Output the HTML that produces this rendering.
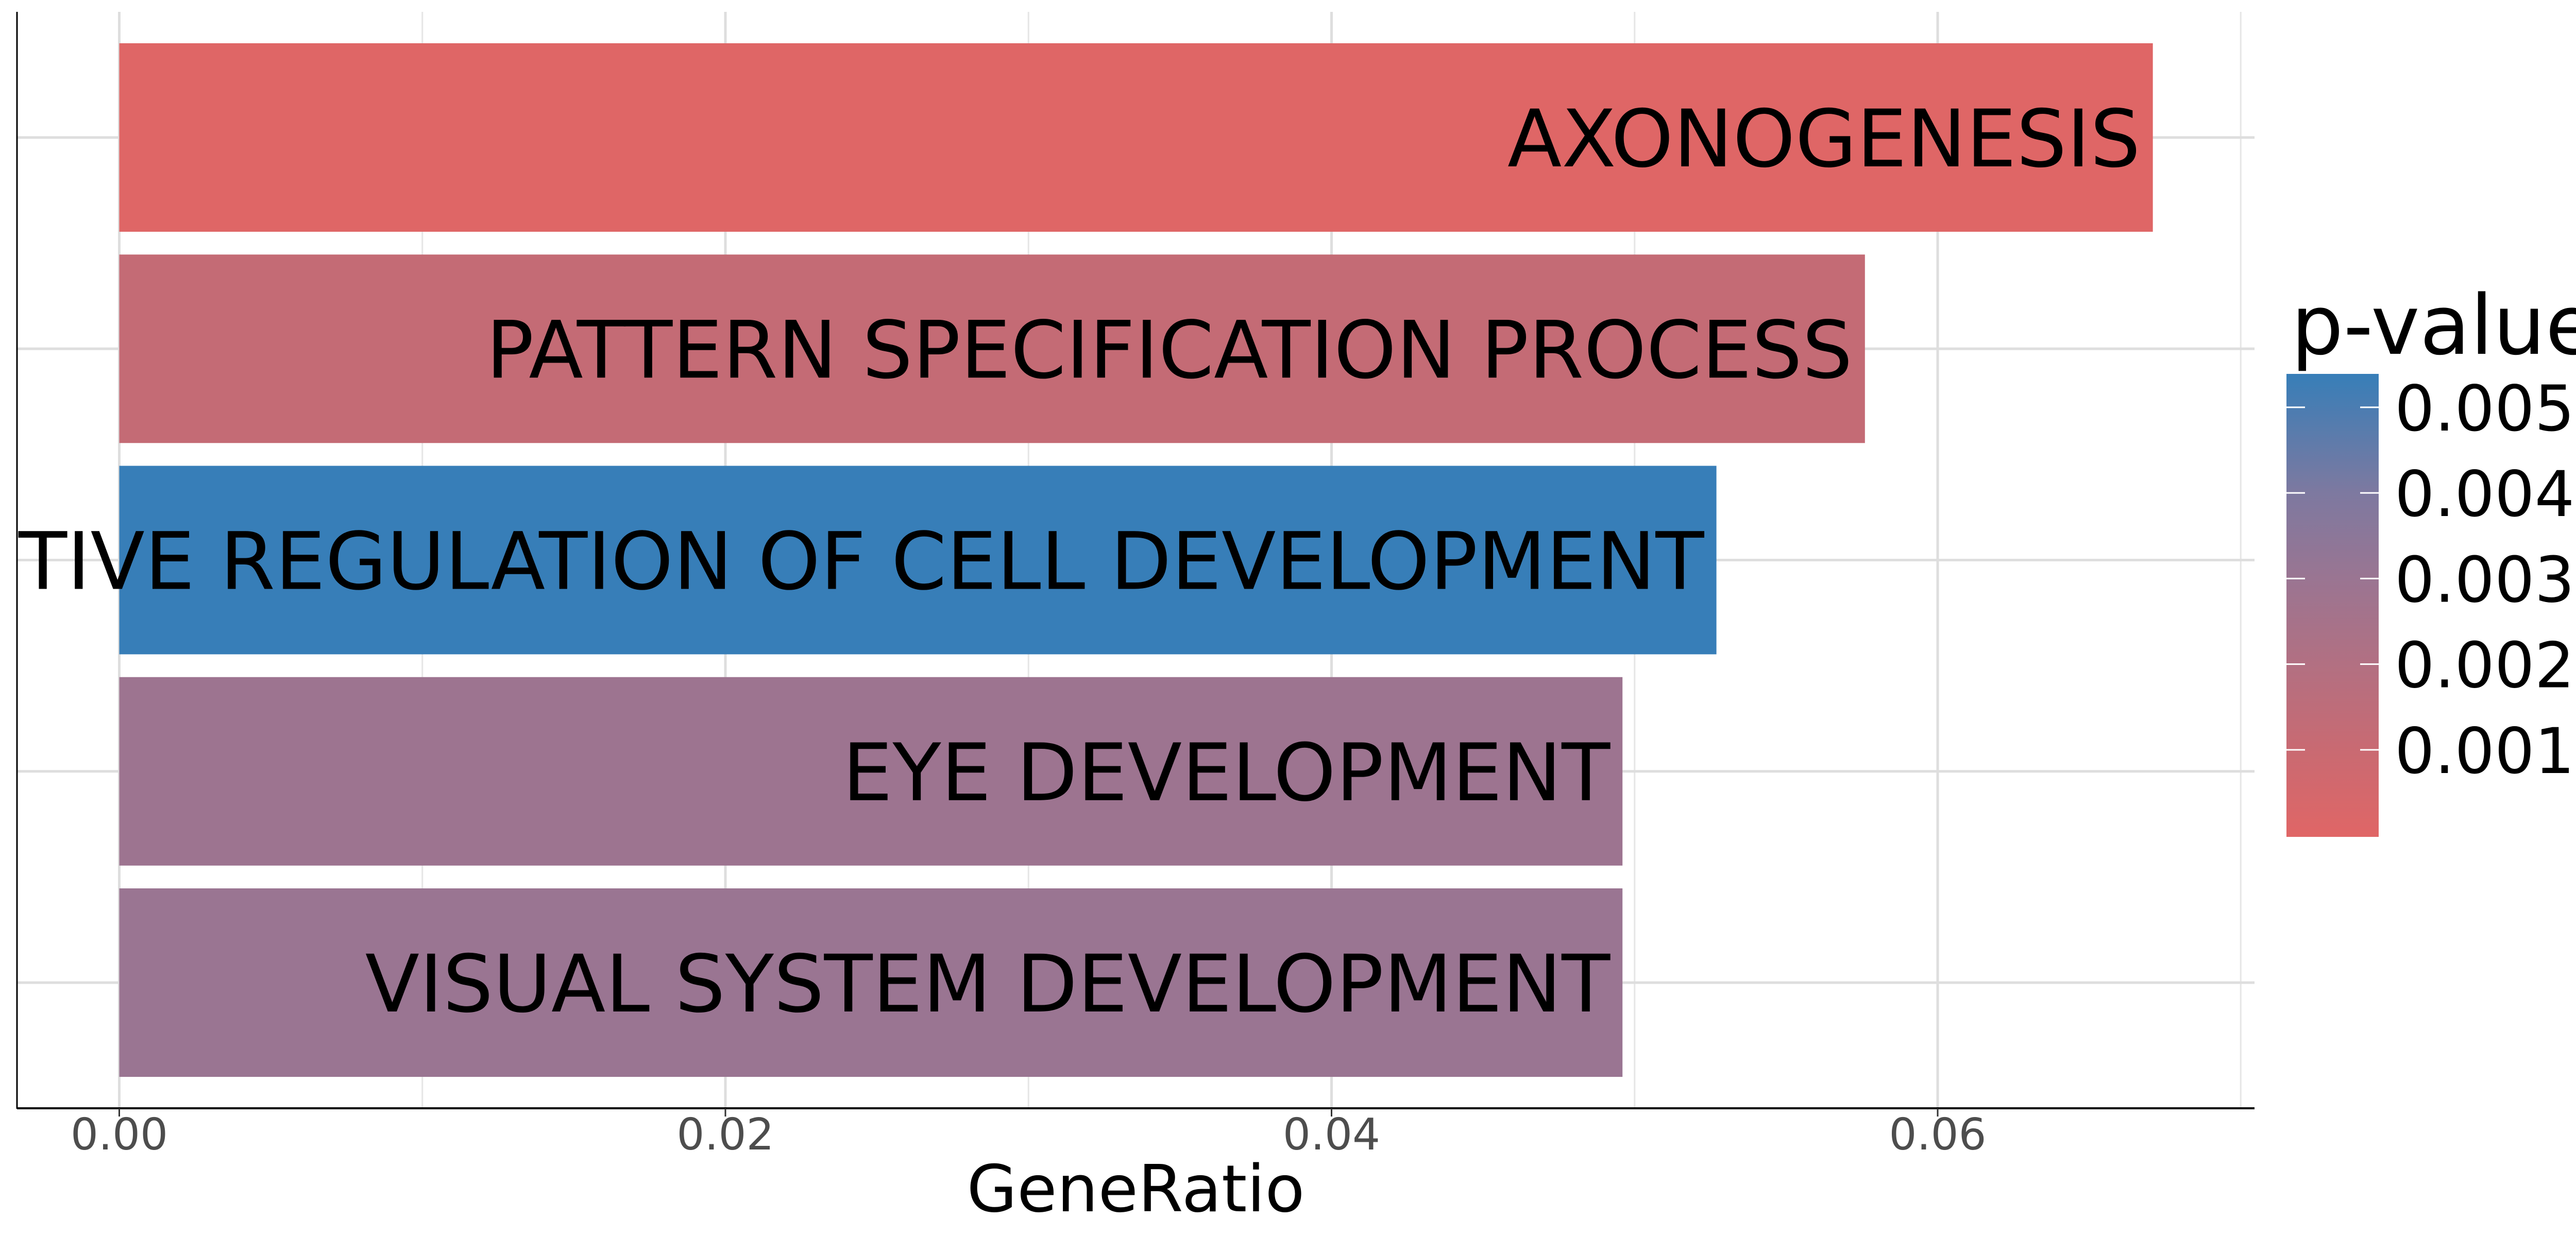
<!DOCTYPE html>
<html><head><meta charset="utf-8"><style>
html,body{margin:0;padding:0;background:#fff;}
svg{display:block;font-family:"DejaVu Sans","Liberation Sans",sans-serif;}
</style></head><body>
<svg id="chart" width="5100" height="2400" viewBox="0 0 5100 2400">
<defs>
<clipPath id="panelClip"><rect x="33" y="23" width="4343" height="2129"/></clipPath>
<linearGradient id="pgrad" x1="0" y1="1" x2="0" y2="0">
<stop offset="0" stop-color="#E06666"/>
<stop offset="0.188" stop-color="#C96A72"/>
<stop offset="0.374" stop-color="#B27082"/>
<stop offset="0.559" stop-color="#9A7592"/>
<stop offset="0.745" stop-color="#7D79A0"/>
<stop offset="1" stop-color="#377EB8"/>
</linearGradient>
</defs>
<g id="grid"></g>
<g id="bars" clip-path="url(#panelClip)"></g>
<g id="axes"></g>
<g id="legend"></g>
</svg>
<script>
const categories = ["AXONOGENESIS","PATTERN SPECIFICATION PROCESS","POSITIVE REGULATION OF CELL DEVELOPMENT","EYE DEVELOPMENT","VISUAL SYSTEM DEVELOPMENT"];
const geneRatio = [0.0671, 0.0576, 0.0527, 0.0496, 0.0496];
const pValues = [0.00002, 0.0012, 0.0054, 0.0029, 0.0030];
const xTicks = [0, 0.02, 0.04, 0.06];
const xTickLabels = ["0.00","0.02","0.04","0.06"];
const xMinor = [0.01, 0.03, 0.05, 0.07];
const legendTicks = [0.001,0.002,0.003,0.004,0.005];
const legendTickLabels = ["0.001","0.002","0.003","0.004","0.005"];

const NS="http://www.w3.org/2000/svg";
const PL=33, PR=4376, PT=23, PB=2152;
const xs = v => 231.5 + v*58825;
const ys = i => 267 + i*410.25;
const BH = 366;
const pMin=-0.0000166, pMax=0.00539;
const LT=726, LB=1625;
const ps = p => LB - (p-pMin)/(pMax-pMin)*(LB-LT);
function mk(tag, attrs, parent){const e=document.createElementNS(NS,tag);for(const k in attrs)e.setAttribute(k,attrs[k]);parent.appendChild(e);return e;}
const stopsT=[0,0.188,0.374,0.559,0.745,1];
const stopsC=[[224,102,102],[201,106,114],[178,112,130],[154,117,146],[125,121,160],[55,126,184]];
function col(p){let t=(p-pMin)/(pMax-pMin);t=Math.max(0,Math.min(1,t));
 let k=0;while(k<stopsT.length-2&&t>stopsT[k+1])k++;
 const u=(t-stopsT[k])/(stopsT[k+1]-stopsT[k]);const a=stopsC[k],b=stopsC[k+1];
 return "rgb("+a.map((c,i)=>Math.round(c+(b[i]-c)*u)).join(",")+")";}

const grid=document.getElementById('grid');
xMinor.forEach(v=>{const l=mk('line',{x1:xs(v),x2:xs(v),y1:PT,y2:PB,stroke:'#E6E6E6','stroke-width':3},grid);

});
xTicks.forEach(v=>{const l=mk('line',{x1:xs(v),x2:xs(v),y1:PT,y2:PB,stroke:'#DEDEDE','stroke-width':5},grid);

});
categories.forEach((c,i)=>{const l=mk('line',{x1:PL,x2:PR,y1:ys(i),y2:ys(i),stroke:'#DEDEDE','stroke-width':5},grid);

});

const bars=document.getElementById('bars');
categories.forEach((c,i)=>{
 const r=mk('rect',{x:xs(0),y:ys(i)-BH/2,width:xs(geneRatio[i])-xs(0),height:BH,fill:col(pValues[i])},bars);
 
 
 const t=mk('text',{x:xs(geneRatio[i])-24,y:ys(i)+56,'text-anchor':'end','font-size':154,fill:'#000'},bars);
 t.textContent=c;
 
 
});

const axes=document.getElementById('axes');
mk('line',{x1:PL,x2:PL,y1:PT,y2:PB+1,stroke:'#000','stroke-width':3},axes);
mk('line',{x1:PL,x2:PR,y1:PB,y2:PB,stroke:'#000','stroke-width':4},axes);
xTicks.forEach((v,i)=>{
 const tk=mk('line',{x1:xs(v),x2:xs(v),y1:PB,y2:PB+16,stroke:'#333','stroke-width':3},axes);
 
 
 const t=mk('text',{x:xs(v),y:2232,'text-anchor':'middle','font-size':85,fill:'#4D4D4D'},axes);
 t.textContent=xTickLabels[i];
 
 
});
const xt=mk('text',{x:(PL+PR)/2,y:2352,'text-anchor':'middle','font-size':126,fill:'#000'},axes);
xt.textContent='GeneRatio';



const lg=document.getElementById('legend');
const lt=mk('text',{x:4447,y:687,'font-size':160,fill:'#000'},lg);
lt.textContent='p-value';


const cb=mk('rect',{x:4438,y:LT,width:179,height:LB-LT,fill:'url(#pgrad)'},lg);


legendTicks.forEach((v,i)=>{
 const y=ps(v);
 mk('line',{x1:4438,x2:4474,y1:y,y2:y,stroke:'#fff','stroke-width':3},lg);
 mk('line',{x1:4581,x2:4617,y1:y,y2:y,stroke:'#fff','stroke-width':3},lg);
 const t=mk('text',{x:4648,y:y+45,'font-size':122,fill:'#000'},lg);
 t.textContent=legendTickLabels[i];
 
 
});
</script>
</body></html>
